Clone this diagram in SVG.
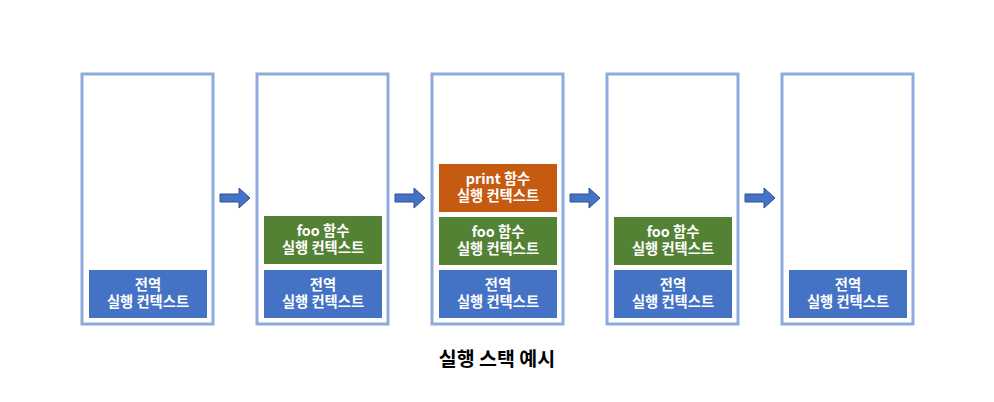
<svg xmlns="http://www.w3.org/2000/svg" width="994" height="402" viewBox="0 0 994 402">
<defs>
<style>
.frame{fill:#fff;stroke:#8FAADC;stroke-width:3}
.ctx{stroke:none}
.g{fill:#4472C4}
.f{fill:#548235}
.p{fill:#C55A11}
.t{font-family:"Noto Sans CJK KR","Noto Sans",sans-serif;font-size:14.3px;font-weight:bold;fill:#fff;text-anchor:middle}
.arrow{fill:#4472C4;stroke:#2F528F;stroke-width:1}
.cap{font-family:"Noto Sans CJK KR","Noto Sans",sans-serif;font-size:19.5px;font-weight:bold;fill:#000;text-anchor:middle}
</style>
<path id="arr" d="M0,6 H19 V0 L30,10 L19,20 V14 H0 Z"/>
</defs>
<rect width="994" height="402" fill="#fff"/>
<g id="stack1">
<rect class="frame" x="82" y="74" width="131" height="250"/>
<g id="s1-global"><rect class="ctx g" x="89" y="270" width="118" height="48"/><text class="t"><tspan x="148" y="289.5">전역</tspan><tspan x="148" y="306.5">실행 컨텍스트</tspan></text></g>
</g>
<g id="stack2">
<rect class="frame" x="257" y="74" width="131" height="250"/>
<g id="s2-foo"><rect class="ctx f" x="264" y="216" width="118" height="48"/><text class="t"><tspan x="323" y="235.5">foo 함수</tspan><tspan x="323" y="252.5">실행 컨텍스트</tspan></text></g>
<g id="s2-global"><rect class="ctx g" x="264" y="270" width="118" height="48"/><text class="t"><tspan x="323" y="289.5">전역</tspan><tspan x="323" y="306.5">실행 컨텍스트</tspan></text></g>
</g>
<g id="stack3">
<rect class="frame" x="432" y="74" width="131" height="250"/>
<g id="s3-print"><rect class="ctx p" x="439" y="164" width="118" height="48"/><text class="t"><tspan x="498" y="183.5">print 함수</tspan><tspan x="498" y="200.5">실행 컨텍스트</tspan></text></g>
<g id="s3-foo"><rect class="ctx f" x="439" y="217" width="118" height="48"/><text class="t"><tspan x="498" y="236.5">foo 함수</tspan><tspan x="498" y="253.5">실행 컨텍스트</tspan></text></g>
<g id="s3-global"><rect class="ctx g" x="439" y="270" width="118" height="48"/><text class="t"><tspan x="498" y="289.5">전역</tspan><tspan x="498" y="306.5">실행 컨텍스트</tspan></text></g>
</g>
<g id="stack4">
<rect class="frame" x="607" y="74" width="131" height="250"/>
<g id="s4-foo"><rect class="ctx f" x="614" y="217" width="118" height="48"/><text class="t"><tspan x="673" y="236.5">foo 함수</tspan><tspan x="673" y="253.5">실행 컨텍스트</tspan></text></g>
<g id="s4-global"><rect class="ctx g" x="614" y="270" width="118" height="48"/><text class="t"><tspan x="673" y="289.5">전역</tspan><tspan x="673" y="306.5">실행 컨텍스트</tspan></text></g>
</g>
<g id="stack5">
<rect class="frame" x="782" y="74" width="131" height="250"/>
<g id="s5-global"><rect class="ctx g" x="789" y="270" width="118" height="48"/><text class="t"><tspan x="848" y="289.5">전역</tspan><tspan x="848" y="306.5">실행 컨텍스트</tspan></text></g>
</g>
<g id="connectors">
<use href="#arr" class="arrow" x="220" y="188"/>
<use href="#arr" class="arrow" x="395" y="188"/>
<use href="#arr" class="arrow" x="570" y="188"/>
<use href="#arr" class="arrow" x="745" y="188"/>
</g>
<text class="cap" x="497" y="366">실행 스택 예시</text>
</svg>
